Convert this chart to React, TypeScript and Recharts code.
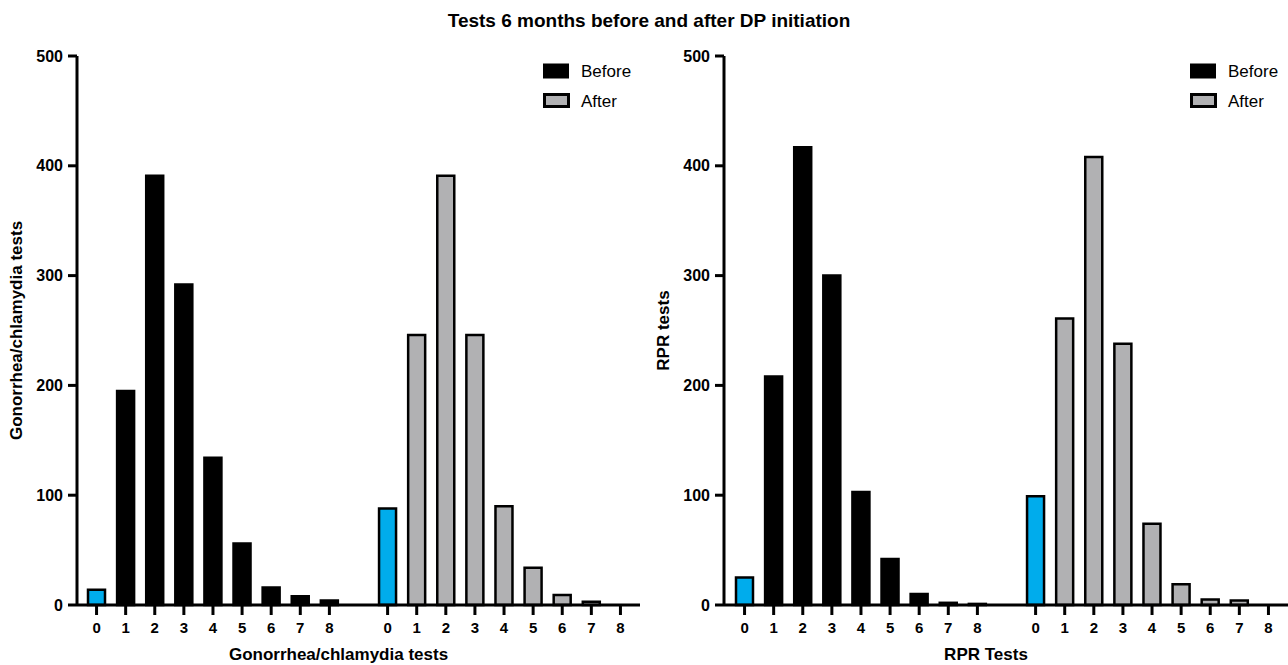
import React from 'react';
import { BarChart, Bar, XAxis, YAxis, Legend, Cell } from 'recharts';

const categories = ['0', '1', '2', '3', '4', '5', '6', '7', '8'];
const gcBefore = [14, 195, 391, 292, 134, 56, 16, 8, 4];
const gcAfter = [88, 246, 391, 246, 90, 34, 9, 3, 0];
const rprBefore = [25, 208, 417, 300, 103, 42, 10, 2, 1];
const rprAfter = [99, 261, 408, 238, 74, 19, 5, 4, 0];
const yTicks = [0, 100, 200, 300, 400, 500];
const seriesNames = ['Before', 'After'];
const chartTitle = 'Tests 6 months before and after DP initiation';
const gcXTitle = 'Gonorrhea/chlamydia tests';
const gcYTitle = 'Gonorrhea/chlamydia tests';
const rprXTitle = 'RPR Tests';
const rprYTitle = 'RPR tests';

const FONT = '"Liberation Sans", Arial, Helvetica, sans-serif';
const BLACK = '#000000';
const GRAY = '#b1b1b3';
const BLUE = '#00acec';

type Row = { id: string; label: string; before?: number; after?: number };

function buildRows(before: number[], after: number[]): Row[] {
  return [
    ...categories.map((c, i) => ({ id: `B-${c}`, label: c, before: before[i] })),
    { id: 'gap', label: '' },
    ...categories.map((c, i) => ({ id: `A-${c}`, label: c, after: after[i] })),
  ];
}

const LegendContent = (props: any) => {
  const payload: any[] = (props && props.payload) || [];
  const colorOf = (name: string, fallback: string) => {
    const e = payload.find((p: any) => p.value === name);
    return e && e.color ? e.color : fallback;
  };
  const c0 = colorOf(seriesNames[0], BLACK);
  const c1 = colorOf(seriesNames[1], GRAY);
  return (
    <svg width={110} height={52} style={{ display: 'block' }}>
      <rect x={3} y={3.5} width={26} height={15} fill={c0} />
      <text x={41} y={16.7} fontSize={17} fontFamily={FONT} fill={BLACK}>{seriesNames[0]}</text>
      <rect x={4.5} y={34.5} width={24} height={12} fill={c1} stroke={BLACK} strokeWidth={3} />
      <text x={41} y={46.7} fontSize={17} fontFamily={FONT} fill={BLACK}>{seriesNames[1]}</text>
    </svg>
  );
};

function makeXTitle(text: string) {
  return (props: any) => {
    const vb = (props && props.viewBox) || {};
    const x = (vb.x ?? 77) + (vb.width ?? 563) / 2 - 20;
    const y = (vb.y ?? 605) + 55;
    return (
      <text x={x} y={y} textAnchor="middle" fontSize={17} fontWeight={700} fontFamily={FONT} fill={BLACK}>
        {text}
      </text>
    );
  };
}

function makeYTitle(text: string) {
  return (props: any) => {
    const vb = (props && props.viewBox) || {};
    const x = (vb.x ?? 17) + 5;
    const y = (vb.y ?? 56) + (vb.height ?? 549) / 2;
    return (
      <text
        x={x}
        y={y}
        transform={`rotate(-90, ${x}, ${y})`}
        textAnchor="middle"
        fontSize={17}
        fontWeight={700}
        fontFamily={FONT}
        fill={BLACK}
      >
        {text}
      </text>
    );
  };
}

function Panel({
  rows,
  xTitle,
  yTitle,
  width,
  marginRight,
  padLeft,
}: {
  rows: Row[];
  xTitle: string;
  yTitle: string;
  width: number;
  marginRight: number;
  padLeft: number;
}) {
  const tickIds = rows.filter((r) => r.label !== '').map((r) => r.id);
  return (
    <BarChart
      width={width}
      height={665}
      data={rows}
      margin={{ top: 56, right: marginRight, bottom: 0, left: 17 }}
      barCategoryGap={0}
    >
      <XAxis
        dataKey="id"
        type="category"
        ticks={tickIds}
        interval={0}
        tickFormatter={(v: any) => String(v).split('-')[1] ?? ''}
        height={60}
        padding={{ left: padLeft, right: 5 }}
        axisLine={{ stroke: BLACK, strokeWidth: 3 }}
        tickLine={{ stroke: BLACK, strokeWidth: 3 }}
        tickSize={10}
        tickMargin={7}
        tick={{ fill: BLACK, fontSize: 15, fontWeight: 700, fontFamily: FONT }}
        label={makeXTitle(xTitle)}
      />
      <YAxis
        type="number"
        domain={[0, 500]}
        ticks={yTicks}
        interval={0}
        width={60}
        axisLine={{ stroke: BLACK, strokeWidth: 3 }}
        tickLine={{ stroke: BLACK, strokeWidth: 3 }}
        tickSize={9}
        tickMargin={5}
        tick={{ fill: BLACK, fontSize: 16, fontWeight: 700, fontFamily: FONT }}
        label={makeYTitle(yTitle)}
      />
      <Legend
        layout="vertical"
        align="center"
        verticalAlign="middle"
        wrapperStyle={{ top: 60, left: 540, width: 110 }}
        content={LegendContent}
      />
      <Bar
        dataKey="before"
        name={seriesNames[0]}
        stackId="s"
        fill={BLACK}
        stroke={BLACK}
        strokeWidth={2.5}
        barSize={17}
        isAnimationActive={false}
      >
        {rows.map((r) => (
          <Cell key={r.id} fill={r.label === '0' ? BLUE : BLACK} />
        ))}
      </Bar>
      <Bar
        dataKey="after"
        name={seriesNames[1]}
        stackId="s"
        fill={GRAY}
        stroke={BLACK}
        strokeWidth={2.5}
        barSize={17}
        isAnimationActive={false}
      >
        {rows.map((r) => (
          <Cell key={r.id} fill={r.label === '0' ? BLUE : GRAY} />
        ))}
      </Bar>
    </BarChart>
  );
}

export default function App() {
  const gcRows = buildRows(gcBefore, gcAfter);
  const rprRows = buildRows(rprBefore, rprAfter);
  return (
    <div
      style={{
        position: 'absolute',
        left: 0,
        top: 0,
        width: 1288,
        height: 665,
        background: '#ffffff',
        overflow: 'hidden',
        fontFamily: FONT,
      }}
    >
      <div style={{ position: 'absolute', left: 0, top: 0 }}>
        <Panel rows={gcRows} xTitle={gcXTitle} yTitle={gcYTitle} width={647} marginRight={7} padLeft={5} />
      </div>
      <div style={{ position: 'absolute', left: 647, top: 0 }}>
        <Panel rows={rprRows} xTitle={rprXTitle} yTitle={rprYTitle} width={641} marginRight={0} padLeft={6} />
      </div>
      <svg width={1288} height={40} style={{ position: 'absolute', left: 0, top: 0, pointerEvents: 'none' }}>
        <text x={649} y={27} textAnchor="middle" fontSize={19} fontWeight={700} fontFamily={FONT} fill={BLACK}>
          {chartTitle}
        </text>
      </svg>
    </div>
  );
}
